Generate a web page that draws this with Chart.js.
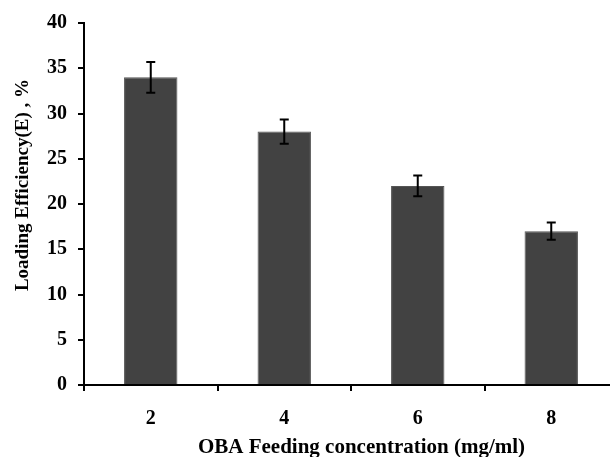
<!DOCTYPE html>
<html>
<head>
<meta charset="utf-8">
<script src="https://cdn.jsdelivr.net/npm/chart.js@4"></script>
<style>
  html, body { margin: 0; padding: 0; background: #fff; overflow: hidden; }
  #wrap { width: 610px; height: 457px; overflow: hidden; }
</style>
</head>
<body>
<div id="wrap"><canvas id="c" width="620" height="457"></canvas></div>
<script>
const categories = ['2', '4', '6', '8'];
const values = [34, 28, 22, 17];
const errors = [1.7, 1.35, 1.15, 0.95];
const yTicks = [0, 5, 10, 15, 20, 25, 30, 35, 40];

const errorBarPlugin = {
  id: 'errorBars',
  afterDatasetsDraw(chart) {
    const ctx = chart.ctx;
    const meta = chart.getDatasetMeta(0);
    const ys = chart.scales.y;
    ctx.save();
    ctx.strokeStyle = '#000';
    ctx.lineWidth = 2;
    meta.data.forEach((bar, i) => {
      const x = bar.x;
      const yt = ys.getPixelForValue(values[i] + errors[i]);
      const yb = ys.getPixelForValue(values[i] - errors[i]);
      const cap = 4.5;
      ctx.beginPath();
      ctx.moveTo(x, yt); ctx.lineTo(x, yb);
      ctx.moveTo(x - cap, yt); ctx.lineTo(x + cap, yt);
      ctx.moveTo(x - cap, yb); ctx.lineTo(x + cap, yb);
      ctx.stroke();
    });
    ctx.restore();
  }
};

new Chart(document.getElementById('c'), {
  type: 'bar',
  data: {
    labels: categories,
    datasets: [{
      data: values,
      backgroundColor: '#424242',
      borderColor: '#555555',
      borderWidth: 1,
      barPercentage: 0.4,
      categoryPercentage: 1.0
    }]
  },
  options: {
    responsive: false,
    animation: false,
    layout: { padding: { top: 23, right: 2, left: 0, bottom: 0 } },
    plugins: { legend: { display: false }, tooltip: { enabled: false } },
    scales: {
      x: {
        grid: { display: true, drawOnChartArea: false, drawTicks: true, tickLength: 6, color: '#000', lineWidth: 2, offset: true },
        border: { display: true, color: '#000', width: 2 },
        ticks: { color: '#000', padding: 16, font: { family: 'Liberation Serif', size: 20, weight: 'bold' } },
        title: { display: true, text: '    OBA Feeding concentration (mg/ml)', color: '#000', padding: { top: 0, bottom: -3 }, font: { family: 'Liberation Serif', size: 21, weight: 'bold' } },
        afterFit(scale) { scale.height = 72; }
      },
      y: {
        min: 0, max: 40,
        afterBuildTicks(scale) { scale.ticks = yTicks.map(v => ({ value: v })); },
        grid: { display: true, drawOnChartArea: false, drawTicks: true, tickLength: 6, color: '#000', lineWidth: 2 },
        border: { display: true, color: '#000', width: 2 },
        ticks: { color: '#000', padding: 11, font: { family: 'Liberation Serif', size: 20, weight: 'bold' } },
        title: { display: true, text: '        Loading Efficiency(E) , %', color: '#000', padding: { top: 12, bottom: 0 }, font: { family: 'Liberation Serif', size: 19, weight: 'bold' } },
        afterFit(scale) { scale.width = 84; }
      }
    }
  },
  plugins: [errorBarPlugin]
});
</script>
</body>
</html>
